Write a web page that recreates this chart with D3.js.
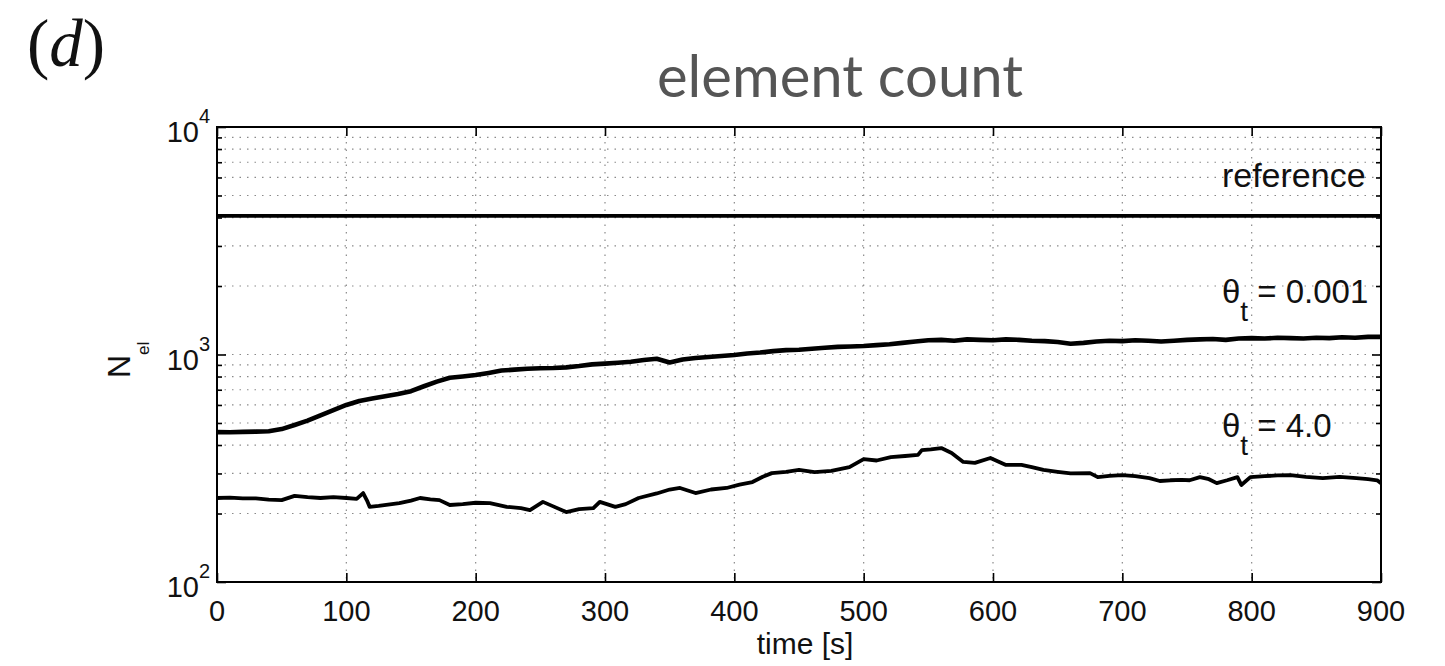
<!DOCTYPE html>
<html><head><meta charset="utf-8">
<script src="https://cdn.jsdelivr.net/npm/d3@7"></script>
<style>body{margin:0;background:#fff}svg{display:block}</style>
</head><body>
<svg id="c" width="1445" height="666"></svg>
<script>
// ---- data ----
const timeTicks = [0,100,200,300,400,500,600,700,800,900];
const yMajorExps = [2,3,4];
const refTime = [0,900];
const refValues = [4070,4070];
const timeA = [0,10,20,30,40,50,60,70,80,90,100,110,120,130,140,150,160,170,180,190,200,210,220,230,240,250,260,270,280,290,300,310,320,330,340,350,360,370,380,390,400,410,420,430,440,450,460,470,480,490,500,510,520,530,540,550,560,570,580,590,600,610,620,630,640,650,660,670,680,690,700,710,720,730,740,750,760,770,780,790,800,810,820,830,840,850,860,870,880,890,900];
const valuesA = [456,455,457,458,460,470,490,512,540,570,600,625,640,655,670,690,725,760,790,800,812,830,850,858,865,870,872,878,890,905,912,920,930,945,958,922,950,965,975,985,995,1010,1020,1035,1045,1050,1060,1070,1080,1085,1090,1100,1110,1125,1140,1155,1160,1150,1165,1160,1155,1165,1160,1150,1145,1135,1115,1125,1140,1150,1145,1155,1150,1140,1150,1160,1165,1170,1160,1175,1180,1175,1185,1180,1175,1185,1180,1190,1185,1195,1195];
const timeB = [0,10,20,30,40,50,60,70,80,90,100,108,113,116,118,125,141,150,157,165,172,180,190,200,211,224,235,242,252,260,270,280,291,296,308,316,326,340,350,358,370,382,394,404,414,422,429,440,450,462,475,489,500,510,521,532,542,545,552,560,568,577,586,598,610,622,630,639,650,660,675,681,690,700,710,721,729,737,746,752,760,767,773,781,789,792,799,810,820,830,842,855,868,881,890,897,900];
const valuesB = [234,235,233,233,230,229,239,236,234,236,234,232,246,228,214,216,222,228,234,231,229,218,220,223,222,214,211,207,225,215,203,209,211,225,214,220,234,245,255,259,246,255,259,268,275,290,301,305,311,304,308,320,347,342,354,358,362,380,383,388,369,337,334,351,327,327,320,311,305,300,301,289,293,295,292,286,278,280,281,280,289,283,272,280,289,267,289,292,294,295,290,286,290,286,283,280,272];
const labelTime = [777,777,777];
const labelValues = [5450,1683,434];
const labelMain = ["reference","θ","θ"];
const labelSub = ["","t","t"];
const labelRest = [""," = 0.001"," = 4.0"];

// ---- layout ----
const svg = d3.select("#c");
const L=217, R=1381, T=127, B=582;
const x = d3.scaleLinear().domain([0,900]).range([L,R]);
const y = d3.scaleLog().domain([100,10000]).range([B,T]);
const font = "'Liberation Sans', Arial, Helvetica, sans-serif";

// grid
const allY = y.ticks().filter(v => v>100 && v<10000);
const gGrid = svg.append("g").attr("stroke","#8a8a8a").attr("stroke-width",1.2).attr("stroke-dasharray","1.5,6");
gGrid.selectAll("line.h").data(allY).join("line").attr("class","h")
  .attr("x1",L).attr("x2",R).attr("y1",d=>y(d)).attr("y2",d=>y(d));
gGrid.selectAll("line.v").data(timeTicks.filter(d=>d>0&&d<900)).join("line").attr("class","v")
  .attr("x1",d=>x(d)).attr("x2",d=>x(d)).attr("y1",T).attr("y2",B);

// axes (ticks inward)
const majors = yMajorExps.map(e=>Math.pow(10,e));
const minors = y.ticks().filter(v=>!majors.includes(v));
function styleAxis(g){ g.selectAll("path").remove(); g.selectAll("line").attr("stroke","#000").attr("stroke-width",1.6); g.selectAll("text").remove(); }
svg.append("g").attr("transform",`translate(${L},0)`).call(d3.axisLeft(y).tickValues(majors).tickSizeInner(-9).tickSizeOuter(0)).call(styleAxis);
svg.append("g").attr("transform",`translate(${L},0)`).call(d3.axisLeft(y).tickValues(minors).tickSizeInner(-5).tickSizeOuter(0)).call(styleAxis);
svg.append("g").attr("transform",`translate(${R},0)`).call(d3.axisRight(y).tickValues(majors).tickSizeInner(-9).tickSizeOuter(0)).call(styleAxis);
svg.append("g").attr("transform",`translate(${R},0)`).call(d3.axisRight(y).tickValues(minors).tickSizeInner(-5).tickSizeOuter(0)).call(styleAxis);
svg.append("g").attr("transform",`translate(0,${B})`).call(d3.axisBottom(x).tickValues(timeTicks).tickSizeInner(-9).tickSizeOuter(0)).call(styleAxis);
svg.append("g").attr("transform",`translate(0,${T})`).call(d3.axisTop(x).tickValues(timeTicks).tickSizeInner(-9).tickSizeOuter(0)).call(styleAxis);

// frame
svg.append("rect").attr("x",L).attr("y",T).attr("width",R-L).attr("height",B-T)
  .attr("fill","none").attr("stroke","#000").attr("stroke-width",2);

// x tick labels
svg.append("g").selectAll("text").data(timeTicks).join("text")
  .attr("x",d=>x(d)).attr("y",B+39).attr("text-anchor","middle")
  .attr("font-family",font).attr("font-size",29).attr("fill","#111").text(d=>d);

// y tick labels
svg.append("g").selectAll("text").data(yMajorExps).join("text")
  .attr("x",199).attr("y",d=>y(Math.pow(10,d))+15).attr("text-anchor","end")
  .attr("font-family",font).attr("font-size",29).attr("fill","#111").text("10");
svg.append("g").selectAll("text").data(yMajorExps).join("text")
  .attr("x",199).attr("y",d=>y(Math.pow(10,d))-4)
  .attr("font-family",font).attr("font-size",20).attr("fill","#111").text(d=>d);

// axis labels
svg.append("text").attr("x",(L+R)/2+6).attr("y",654).attr("text-anchor","middle")
  .attr("font-family",font).attr("font-size",30).attr("fill","#111").text("time [s]");
const nl = svg.append("text").attr("transform","translate(130,378) rotate(-90)")
  .attr("font-family",font).attr("font-size",32).attr("fill","#111");
nl.append("tspan").text("N");
nl.append("tspan").attr("dy",19).attr("font-size",17).text("el");

// lines
const line = d3.line().x(d=>x(d[0])).y(d=>y(d[1]));
svg.append("path").datum(refTime.map((t,i)=>[t,refValues[i]])).attr("d",line)
  .attr("fill","none").attr("stroke","#000").attr("stroke-width",3.8);
svg.append("path").datum(timeA.map((t,i)=>[t,valuesA[i]])).attr("d",line)
  .attr("fill","none").attr("stroke","#000").attr("stroke-width",4.6).attr("stroke-linejoin","round");
svg.append("path").datum(timeB.map((t,i)=>[t,valuesB[i]])).attr("d",line)
  .attr("fill","none").attr("stroke","#000").attr("stroke-width",3.8).attr("stroke-linejoin","round");

// line labels
labelMain.forEach((m,i)=>{
  const t = svg.append("text").attr("x",x(labelTime[i])).attr("y",y(labelValues[i]))
    .attr("font-family",font).attr("font-size",i===0?34:33).attr("fill","#111");
  t.append("tspan").text(m);
  if(labelSub[i]){
    t.append("tspan").attr("dy",18).attr("font-size",28).text(labelSub[i]);
    t.append("tspan").attr("dy",-18).text(labelRest[i]);
  }
});

// title & panel letter
svg.append("text").attr("x",840).attr("y",97).attr("text-anchor","middle")
  .attr("font-family","Lato, 'Open Sans', sans-serif").attr("font-size",58).attr("fill","#555").text("element count");
const pd = svg.append("text").attr("x",27).attr("y",66)
  .attr("font-family","'Liberation Serif', 'Times New Roman', serif").attr("font-size",67).attr("fill","#111");
pd.append("tspan").text("(");
pd.append("tspan").attr("font-style","italic").text("d");
pd.append("tspan").text(")");
</script>
</body></html>
